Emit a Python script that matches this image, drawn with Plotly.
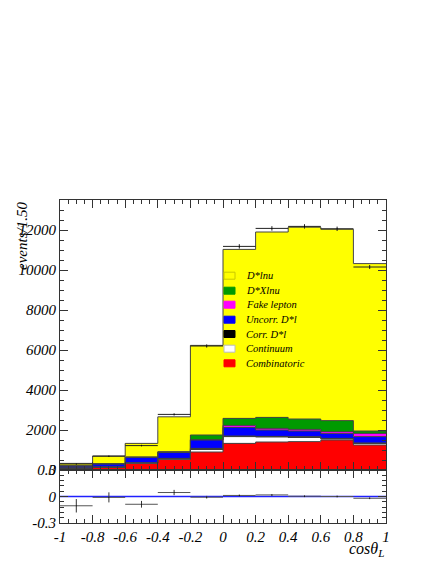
import plotly.graph_objects as go
from plotly.subplots import make_subplots

# bin edges / centres in cos(theta_L)
edges = [-1.0, -0.8, -0.6, -0.4, -0.2, 0.0, 0.2, 0.4, 0.6, 0.8, 1.0]
centers = [-0.9, -0.7, -0.5, -0.3, -0.1, 0.1, 0.3, 0.5, 0.7, 0.9]

# stacked MC components (bottom -> top)
combinatoric = [85, 130, 330, 530, 900, 1330, 1400, 1420, 1500, 1250]
continuum = [10, 15, 20, 30, 130, 340, 250, 210, 50, 80]
corr_dl = [10, 10, 15, 20, 50, 30, 30, 40, 30, 20]
uncorr_dl = [95, 145, 265, 300, 420, 430, 320, 280, 250, 320]
fake_lepton = [5, 10, 10, 15, 20, 100, 80, 80, 90, 160]
dxlnu = [5, 10, 10, 20, 230, 350, 550, 520, 550, 120]
dlnu = [120, 380, 680, 1745, 4480, 8450, 9270, 9590, 9570, 8370]

# data points
data_y = [300, 690, 1220, 2780, 6200, 11180, 12080, 12180, 12060, 10150]
data_err = [20, 30, 40, 55, 80, 110, 110, 110, 110, 100]

# lower panel: (data - MC) / MC
ratio = [-0.105, -0.01, -0.088, 0.045, -0.008, 0.012, 0.018, 0.003, 0.0, -0.02]
ratio_err = [0.076, 0.057, 0.038, 0.03, 0.015, 0.01, 0.01, 0.01, 0.01, 0.01]

y_ticks = [0, 2000, 4000, 6000, 8000, 10000, 12000]
x_ticklabels = ["-1", "-0.8", "-0.6", "-0.4", "-0.2", "0", "0.2", "0.4", "0.6", "0.8", "1"]

layers = [
    ("Combinatoric", combinatoric, "#ff0000", "#ff0000"),
    ("Continuum", continuum, "#ffffff", "#bbbbbb"),
    ("Corr. D*l", corr_dl, "#000000", "#000000"),
    ("Uncorr. D*l", uncorr_dl, "#0000ff", "#0000ff"),
    ("Fake lepton", fake_lepton, "#ff00ff", "#ff00ff"),
    ("D*Xlnu", dxlnu, "#009a00", "#009a00"),
    ("D*lnu", dlnu, "#ffff00", "#c8c800"),
]

serif = "Liberation Serif"
# the page body adds an 8px offset, so the figure is a bit smaller than the window
OFF = 8
W, H = 436 - OFF, 564 - OFF
L, R, T, B = 60 - OFF, 50, 200 - OFF, 41
PH = H - T - B

fig = make_subplots(rows=2, cols=1, shared_xaxes=True, vertical_spacing=0,
                    row_heights=[270 / PH, 53 / PH])

cum = [0] * len(centers)
for name, vals, color, _ in layers:
    fig.add_trace(go.Bar(x=centers, y=vals, width=0.2, name=name,
                         marker=dict(color=color, line=dict(width=0)),
                         showlegend=False), row=1, col=1)
    cum = [c + v for c, v in zip(cum, vals)]
    # step outline on top of each layer
    fig.add_trace(go.Scatter(x=edges, y=cum + [cum[-1]], mode="lines",
                             line=dict(shape="hv", color="#444444", width=1),
                             showlegend=False, hoverinfo="skip"), row=1, col=1)

fig.add_trace(go.Scatter(
    x=centers, y=data_y, mode="markers",
    marker=dict(size=1, color="black"),
    error_x=dict(type="constant", value=0.1, color="#222222", thickness=1, width=0),
    error_y=dict(type="data", array=data_err, color="#222222", thickness=1, width=0),
    showlegend=False), row=1, col=1)

fig.add_trace(go.Scatter(x=[-1, 1], y=[0, 0], mode="lines",
                         line=dict(color="#2020ff", width=1.5),
                         showlegend=False, hoverinfo="skip"), row=2, col=1)
fig.add_trace(go.Scatter(
    x=centers, y=ratio, mode="markers",
    marker=dict(size=1, color="black"),
    error_x=dict(type="constant", value=0.1, color="#555555", thickness=1, width=0),
    error_y=dict(type="data", array=ratio_err, color="#333333", thickness=1, width=0),
    showlegend=False), row=2, col=1)

tickfont = dict(family=serif, size=15, color="black", style="italic")
axis_common = dict(showline=True, linecolor="#333333", linewidth=1, mirror="ticks",
                   ticks="inside", ticklen=8, tickcolor="#333333", showgrid=False,
                   zeroline=False, tickfont=tickfont, automargin=False)

fig.update_xaxes(range=[-1, 1], tickvals=edges, ticktext=x_ticklabels,
                 minor=dict(dtick=0.05, ticks="inside", ticklen=4, tickcolor="#333333"),
                 **axis_common)
fig.update_xaxes(showticklabels=False, row=1, col=1)
fig.update_yaxes(range=[0, 13500], tickvals=y_ticks, ticktext=[str(v) for v in y_ticks],
                 minor=dict(dtick=500, ticks="inside", ticklen=4, tickcolor="#333333"),
                 row=1, col=1, **axis_common)
fig.update_yaxes(range=[-0.3, 0.3], tickvals=[-0.3, 0, 0.3], ticktext=["-0.3", "0", "0.3"],
                 minor=dict(dtick=0.06, ticks="inside", ticklen=4, tickcolor="#333333"),
                 row=2, col=1, **axis_common)


# helpers: window pixel -> paper fraction
def px_x(p):
    return (p - OFF - L) / (W - L - R)


def px_y(q):
    return (H - B - (q - OFF)) / PH


# legend drawn by hand to get ROOT-like compact spacing
leg_y = [275.7, 290.7, 304.7, 319.7, 334.0, 348.7, 363.3]
for (name, _, color, edge), yc in zip(reversed(layers), leg_y):
    fig.add_shape(type="rect", xref="paper", yref="paper",
                  x0=px_x(224), x1=px_x(235), y0=px_y(yc + 3.5), y1=px_y(yc - 3.5),
                  fillcolor=color, line=dict(color=edge, width=1))
    fig.add_annotation(text=name, xref="paper", yref="paper", x=px_x(244), y=px_y(yc),
                       xanchor="left", yanchor="middle", showarrow=False,
                       font=dict(family=serif, size=10.5, color="black", style="italic"))

fig.add_annotation(text="events/1.50", xref="paper", yref="paper",
                   x=px_x(22), y=1.0, xanchor="center", yanchor="top", textangle=-90,
                   showarrow=False, font=dict(family=serif, size=15, color="black", style="italic"))
fig.add_annotation(text="cosθ<sub>L</sub>", xref="paper", yref="paper",
                   x=1.0, y=px_y(549), xanchor="right", yanchor="middle",
                   showarrow=False, font=dict(family=serif, size=16, color="black", style="italic"))

fig.update_layout(width=W, height=H, margin=dict(l=L, r=R, t=T, b=B),
                  barmode="stack", bargap=0, plot_bgcolor="white", paper_bgcolor="white")

fig.write_html("out.html")
